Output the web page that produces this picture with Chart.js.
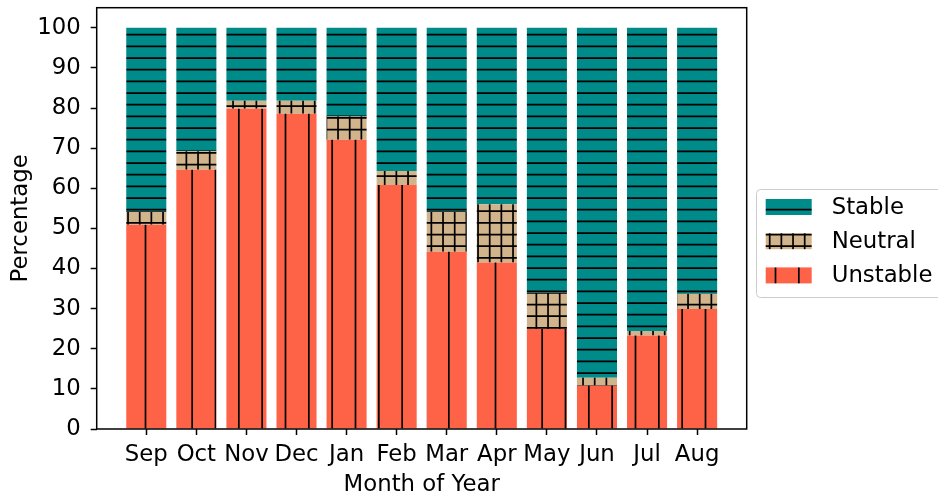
<!DOCTYPE html>
<html>
<head>
<meta charset="utf-8">
<script src="https://cdn.jsdelivr.net/npm/chart.js@4/dist/chart.umd.min.js"></script>
<style>
  html, body { margin: 0; padding: 0; background: #fff; }
  canvas { display: block; }
</style>
</head>
<body>
<canvas id="chart" width="938" height="496"></canvas>
<script>
// Chart data (percent of each month)
const months = ['Sep', 'Oct', 'Nov', 'Dec', 'Jan', 'Feb', 'Mar', 'Apr', 'May', 'Jun', 'Jul', 'Aug'];
const unstable = [50.9, 64.6, 79.8, 78.6, 72.1, 60.8, 44.2, 41.5, 24.9, 10.8, 23.3, 29.9];
const neutral  = [3.4, 4.6, 2.0, 3.2, 5.8, 3.5, 10.1, 14.5, 9.1, 2.0, 1.1, 3.8];
const stable   = [45.7, 30.8, 18.2, 18.2, 22.1, 35.7, 45.7, 44.0, 66.0, 87.2, 75.6, 66.3];
const yTicks = [0, 10, 20, 30, 40, 50, 60, 70, 80, 90, 100];

const FONT = 'DejaVu Sans';
const FONT_SIZE = 22.8;

// Build a hatch pattern (tile of 70px so spacing 11.67px repeats cleanly)
function makeHatch(color, draw) {
    const size = 70;
    const c = document.createElement('canvas');
    c.width = size;
    c.height = size;
    const g = c.getContext('2d');
    g.fillStyle = color;
    g.fillRect(0, 0, size, size);
    g.strokeStyle = '#000';
    g.lineWidth = 1.7;
    g.beginPath();
    draw(g, size);
    g.stroke();
    return g.createPattern(c, 'repeat');
}

function hLines(g, size, n, phase) {
    const step = size / n;
    for (let k = -1; k <= n + 1; k++) {
        const y = phase + k * step;
        g.moveTo(0, y);
        g.lineTo(size, y);
    }
}

function vLines(g, size, n, phase) {
    const step = size / n;
    for (let k = -1; k <= n + 1; k++) {
        const x = phase + k * step;
        g.moveTo(x, 0);
        g.lineTo(x, size);
    }
}

const stableFill = makeHatch('#008b8b', (g, s) => hLines(g, s, 6, -0.3));
const neutralFill = makeHatch('#d2b48c', (g, s) => { vLines(g, s, 6, -0.3); hLines(g, s, 6, 1.2); });
const unstableFill = makeHatch('#ff6347', (g, s) => vLines(g, s, 3, 5.5));

const toPoints = arr => arr.map((v, i) => ({ x: i, y: v }));

// Axes frame drawn on top of bars
const frame = {
    id: 'frame',
    afterDatasetsDraw(chart) {
        const { ctx, chartArea: a } = chart;
        ctx.save();
        ctx.strokeStyle = '#000';
        ctx.lineWidth = 1.5;
        ctx.strokeRect(a.left, a.top, a.right - a.left, a.bottom - a.top);
        ctx.restore();
    }
};

// Legend box to the right of the axes (Stable on top)
const hatchLegend = {
    id: 'hatchLegend',
    afterDraw(chart) {
        const ctx = chart.ctx;
        ctx.save();
        ctx.beginPath();
        ctx.roundRect(756.5, 189.5, 200, 108, 4);
        ctx.fillStyle = 'rgba(255,255,255,0.8)';
        ctx.fill();
        ctx.strokeStyle = '#cccccc';
        ctx.lineWidth = 1;
        ctx.stroke();

        const items = chart.data.datasets.slice().reverse();
        ctx.font = FONT_SIZE + 'px "' + FONT + '"';
        ctx.textBaseline = 'middle';
        items.forEach((ds, i) => {
            const y = 199 + i * 34.2;
            ctx.fillStyle = ds.backgroundColor;
            ctx.fillRect(765.7, y, 46, 16);
            ctx.fillStyle = '#000';
            ctx.fillText(ds.label, 831.7, y + 9);
        });
        ctx.restore();
    }
};

const ctx = document.getElementById('chart').getContext('2d');

new Chart(ctx, {
    type: 'bar',
    data: {
        datasets: [
            { label: 'Unstable', data: toPoints(unstable), backgroundColor: unstableFill },
            { label: 'Neutral', data: toPoints(neutral), backgroundColor: neutralFill },
            { label: 'Stable', data: toPoints(stable), backgroundColor: stableFill }
        ]
    },
    options: {
        responsive: false,
        animation: false,
        events: [],
        layout: {
            padding: { top: 7.7, right: 191.3, bottom: 0, left: 0 }
        },
        datasets: {
            bar: { categoryPercentage: 0.8, barPercentage: 1.0, borderWidth: 0 }
        },
        plugins: {
            legend: { display: false },
            tooltip: { enabled: false }
        },
        scales: {
            x: {
                type: 'linear',
                stacked: true,
                offset: false,
                min: -0.99,
                max: 11.99,
                afterBuildTicks: scale => {
                    scale.ticks = months.map((m, i) => ({ value: i }));
                },
                afterFit: scale => {
                    scale.height = 67;
                    scale.paddingLeft = 0;
                    scale.paddingRight = 0;
                },
                ticks: {
                    color: '#000',
                    font: { family: FONT, size: FONT_SIZE },
                    padding: 6.5,
                    maxRotation: 0,
                    autoSkip: false,
                    callback: v => months[v]
                },
                grid: {
                    offset: false,
                    drawOnChartArea: false,
                    drawTicks: true,
                    tickLength: 6,
                    tickWidth: 1.5,
                    tickColor: '#000'
                },
                border: { display: false },
                title: {
                    display: true,
                    text: 'Month of Year',
                    color: '#000',
                    font: { family: FONT, size: FONT_SIZE },
                    padding: { top: 0, bottom: -3 }
                }
            },
            y: {
                stacked: true,
                min: 0,
                max: 105,
                afterBuildTicks: scale => {
                    scale.ticks = yTicks.map(v => ({ value: v }));
                },
                afterFit: scale => {
                    scale.width = 96.7;
                    scale.paddingTop = 0;
                    scale.paddingBottom = 0;
                },
                ticks: {
                    color: '#000',
                    font: { family: FONT, size: FONT_SIZE },
                    padding: 10
                },
                grid: {
                    drawOnChartArea: false,
                    drawTicks: true,
                    tickLength: 6,
                    tickWidth: 1.5,
                    tickColor: '#000'
                },
                border: { display: false },
                title: {
                    display: true,
                    text: 'Percentage',
                    color: '#000',
                    font: { family: FONT, size: FONT_SIZE },
                    padding: { top: 7, bottom: 0 }
                }
            }
        }
    },
    plugins: [frame, hatchLegend]
});
</script>
</body>
</html>
